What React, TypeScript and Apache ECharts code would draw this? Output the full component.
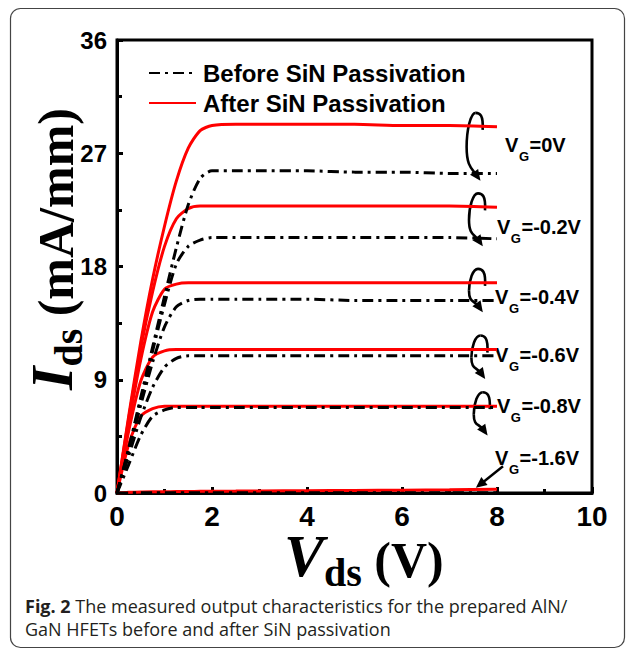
import React, { useEffect, useRef } from 'react';
import * as echarts from 'echarts';

// ---- data ----
const vds = [0, 0.25, 0.5, 0.75, 1.0, 1.25, 1.5, 1.75, 2.0, 2.5, 3, 4, 5, 6, 7, 8];

const afterVG0 = [0, 6.2, 12.0, 17.0, 21.2, 24.8, 27.4, 28.8, 29.2, 29.3, 29.3, 29.3, 29.3, 29.2, 29.2, 29.1];
const afterVGm02 = [0, 6.0, 11.5, 16.0, 19.6, 21.8, 22.6, 22.8, 22.8, 22.8, 22.8, 22.8, 22.8, 22.8, 22.8, 22.7];
const afterVGm04 = [0, 5.6, 10.6, 14.4, 16.2, 16.6, 16.7, 16.7, 16.7, 16.7, 16.7, 16.7, 16.7, 16.7, 16.7, 16.7];
const afterVGm06 = [0, 5.0, 8.9, 10.8, 11.3, 11.4, 11.4, 11.4, 11.4, 11.4, 11.4, 11.4, 11.4, 11.4, 11.4, 11.4];
const afterVGm08 = [0, 3.9, 6.1, 6.7, 6.9, 6.9, 6.9, 6.9, 6.9, 6.9, 6.9, 6.9, 6.9, 6.9, 6.9, 6.9];
const afterVGm16 = [0, 0.05, 0.08, 0.1, 0.1, 0.11, 0.12, 0.13, 0.14, 0.15, 0.16, 0.18, 0.2, 0.22, 0.25, 0.3];

const beforeVG0 = [0, 3.6, 7.6, 11.6, 15.6, 19.5, 22.9, 25.0, 25.6, 25.6, 25.6, 25.6, 25.5, 25.5, 25.4, 25.4];
const beforeVGm02 = [0, 3.5, 7.4, 11.3, 15.0, 18.2, 19.6, 20.1, 20.3, 20.3, 20.3, 20.3, 20.3, 20.3, 20.3, 20.2];
const beforeVGm04 = [0, 3.3, 7.0, 10.4, 13.2, 14.8, 15.3, 15.4, 15.4, 15.4, 15.4, 15.4, 15.3, 15.3, 15.3, 15.3];
const beforeVGm06 = [0, 3.0, 6.0, 8.4, 10.0, 10.7, 10.9, 10.9, 10.9, 10.9, 10.9, 10.9, 10.9, 10.9, 10.9, 10.9];
const beforeVGm08 = [0, 2.3, 4.6, 6.1, 6.6, 6.8, 6.8, 6.8, 6.8, 6.8, 6.8, 6.8, 6.8, 6.8, 6.8, 6.8];
const beforeVGm16 = [0, 0.01, 0.01, 0.01, 0.01, 0.01, 0.01, 0.01, 0.01, 0.01, 0.01, 0.01, 0.01, 0.01, 0.01, 0.01];

const vgLabels = ['0', '-0.2', '-0.4', '-0.6', '-0.8', '-1.6'];
const legendNames = ['Before SiN Passivation', 'After SiN Passivation'];
const captionBold = 'Fig. 2';
const captionLine1 = ' The measured output characteristics for the prepared AlN/';
const captionLine2 = 'GaN HFETs before and after SiN passivation';

const xMin = 0, xMax = 10, xStep = 2;
const yMin = 0, yMax = 36, yStep = 9;

// ---- annotation layout (not data) ----
const loopAt = [7.55, 7.6, 7.6, 7.65, 7.7];
const labelAt = [8.17, 8.0, 7.96, 7.96, 8.0, 7.96];
const labelDy = [-5, 4, 5, 2, -1, 0];

const afterSets = [afterVG0, afterVGm02, afterVGm04, afterVGm06, afterVGm08, afterVGm16];
const beforeSets = [beforeVG0, beforeVGm02, beforeVGm04, beforeVGm06, beforeVGm08, beforeVGm16];

const SANS = "'Liberation Sans', Arial, sans-serif";
const SERIF = "'Liberation Serif', 'Times New Roman', serif";
const CAP = "'Open Sans', 'Noto Sans', sans-serif";

const measureCtx = typeof document !== 'undefined' ? document.createElement('canvas').getContext('2d') : null;
function tw(text: string, size: number, family: string, weight = 'bold', style = 'normal') {
  if (!measureCtx) return text.length * size * 0.55;
  measureCtx.font = `${style} ${weight} ${size}px ${family}`;
  return measureCtx.measureText(text).width;
}

type Piece = { t: string; size: number; family: string; weight?: string; style?: string; dy?: number; dx?: number; color?: string; lh?: number };

function seq(pieces: Piece[], x0: number, baseline: number) {
  let x = x0;
  const out: any[] = [];
  pieces.forEach((p) => {
    x += p.dx || 0;
    out.push({
      type: 'text',
      x,
      y: baseline - 0.35 * p.size + (p.dy || 0),
      silent: true,
      style: {
        text: p.t,
        fontSize: p.size,
        fontFamily: p.family,
        fontWeight: p.weight || 'bold',
        fontStyle: p.style || 'normal',
        lineHeight: p.lh || Math.round(p.size * 1.1),
        fill: p.color || '#000',
        align: 'left',
        verticalAlign: 'middle',
      },
    });
    x += tw(p.t, p.size, p.family, p.weight || 'bold', p.style || 'normal');
  });
  return { els: out, width: x - x0 };
}

function seqWidth(pieces: Piece[]) {
  return pieces.reduce((s, p) => s + (p.dx || 0) + tw(p.t, p.size, p.family, p.weight || 'bold', p.style || 'normal'), 0);
}

function arrowHead(ex: number, ey: number, dx: number, dy: number, len = 11, half = 5) {
  const l = Math.hypot(dx, dy) || 1;
  const ux = dx / l, uy = dy / l;
  const tipX = ex + ux * len * 0.6, tipY = ey + uy * len * 0.6;
  const bx = ex - ux * len * 0.4, by = ey - uy * len * 0.4;
  return {
    type: 'polygon',
    silent: true,
    shape: { points: [[tipX, tipY], [bx - uy * half, by + ux * half], [bx + uy * half, by - ux * half]] },
    style: { fill: '#000' },
  };
}

function buildGraphics(chart: any) {
  const px = (x: number, y: number) => chart.convertToPixel({ gridIndex: 0 }, [x, y]);
  const n = vds.length;
  const g: any[] = [];

  // card border
  g.push({
    type: 'rect', silent: true, z: -10,
    shape: { x: 10.5, y: 8.5, width: 614, height: 639, r: 10 },
    style: { fill: 'none', stroke: '#444', lineWidth: 1.2 },
  });

  // x-axis title
  const xt: Piece[] = [
    { t: 'V', size: 60, family: SERIF, style: 'italic', lh: 34 },
    { t: 'ds', size: 40, family: SERIF, dy: 9, lh: 28 },
    { t: ' (V)', size: 50, family: SERIF, lh: 40 },
  ];
  g.push(...seq(xt, 284, 577).els);

  // y-axis title (rotated)
  const yt: Piece[] = [
    { t: 'I', size: 60, family: SERIF, style: 'italic', lh: 40 },
    { t: 'ds', size: 40, family: SERIF, dy: 9, lh: 28 },
    { t: ' (mA/mm)', size: 50, family: SERIF, lh: 40 },
  ];
  const yl = seqWidth(yt);
  g.push({ type: 'group', x: 73, y: 249, rotation: Math.PI / 2, children: seq(yt, -yl / 2, 0).els });

  // loops with arrows
  for (let i = 0; i < 5; i++) {
    const xd = loopAt[i];
    const [cx, ry] = px(xd, afterSets[i][n - 1]);
    const by = px(xd, beforeSets[i][n - 1])[1];
    const top = ry - 14;
    const tip = Math.max(by + 8, ry + 30);
    const mid = (top + tip) / 2;
    const st = { stroke: '#000', lineWidth: 2.6, fill: 'none' };
    g.push({ type: 'bezierCurve', silent: true, shape: { x1: cx + 7, y1: ry + 3, cpx1: cx + 8, cpy1: top + 2, cpx2: cx + 4, cpy2: top, x2: cx, y2: top }, style: st });
    g.push({ type: 'bezierCurve', silent: true, shape: { x1: cx, y1: top, cpx1: cx - 5, cpy1: top, cpx2: cx - 9, cpy2: top + (mid - top) * 0.5, x2: cx - 9, y2: mid }, style: st });
    const ex = cx + 1, ey = tip - 6;
    const c2x = cx - 4, c2y = tip - 13;
    g.push({ type: 'bezierCurve', silent: true, shape: { x1: cx - 9, y1: mid, cpx1: cx - 9, cpy1: mid + (tip - mid) * 0.55, cpx2: c2x, cpy2: c2y, x2: ex, y2: ey }, style: st });
    g.push(arrowHead(ex, ey, ex - c2x, ey - c2y));
  }

  // straight arrow for the lowest curve
  {
    const [tx, ty0] = px(7.6, afterSets[5][n - 1]);
    const ty = ty0 - 3;
    const sx = tx + 25, sy = ty - 20;
    g.push({ type: 'line', silent: true, shape: { x1: sx, y1: sy, x2: tx + 5, y2: ty - 4 }, style: { stroke: '#000', lineWidth: 2.4 } });
    g.push(arrowHead(tx + 3, ty - 2.5, tx - sx, ty - sy));
  }

  // V_G labels
  for (let i = 0; i < 6; i++) {
    const lx = px(labelAt[i], 0)[0];
    let yc: number;
    const ry = px(8, afterSets[i][n - 1])[1];
    if (i < 5) {
      const by = px(8, beforeSets[i][n - 1])[1];
      yc = (ry + by) / 2 + labelDy[i];
    } else {
      yc = ry - 31;
    }
    const base = yc + 0.35 * 20;
    const pieces: Piece[] = [
      { t: 'V', size: 20, family: SANS, lh: 20 },
      { t: 'G', size: 13, family: SANS, dy: 9, dx: 0.5, lh: 13 },
      { t: '=' + vgLabels[i] + 'V', size: 20, family: SANS, dx: 0.5, lh: 20 },
    ];
    g.push(...seq(pieces, lx, base).els);
  }

  // caption
  const c1: Piece[] = [
    { t: captionBold, size: 18, family: CAP, weight: 'bold', color: '#231f20' },
    { t: captionLine1, size: 18, family: CAP, weight: 'normal', color: '#231f20' },
  ];
  g.push(...seq(c1, 25, 612).els);
  g.push(...seq([{ t: captionLine2, size: 18, family: CAP, weight: 'normal', color: '#231f20' }], 25, 635).els);

  return g;
}

function buildOption() {
  const series: any[] = [];
  afterSets.forEach((arr) => {
    series.push({
      name: legendNames[1],
      type: 'line',
      data: vds.map((v, j) => [v, arr[j]]),
      symbol: 'none',
      smooth: 0.25,
      z: 2,
      lineStyle: { color: '#ff0000', width: 3 },
      itemStyle: { color: '#ff0000' },
    });
  });
  beforeSets.forEach((arr) => {
    series.push({
      name: legendNames[0],
      type: 'line',
      data: vds.map((v, j) => [v, arr[j]]),
      symbol: 'none',
      smooth: 0.25,
      z: 3,
      lineStyle: { color: '#000000', width: 3, type: [11, 5, 3, 5] },
      itemStyle: { color: '#000000' },
    });
  });
  const tickStyle = { color: '#000', width: 3 };
  return {
    animation: false,
    backgroundColor: '#ffffff',
    grid: { left: 117, right: 35, top: 40, bottom: 156, show: true, borderColor: '#000', borderWidth: 3, backgroundColor: 'transparent' },
    legend: {
      data: legendNames,
      orient: 'vertical',
      left: 148,
      top: 61,
      padding: 0,
      itemGap: 6,
      itemWidth: 47,
      itemHeight: 14,
      selectedMode: false,
      itemStyle: { opacity: 0 },
      textStyle: { fontSize: 24, fontWeight: 'bold', fontFamily: SANS, color: '#000', padding: [0, 0, 0, 2] },
    },
    xAxis: {
      type: 'value', min: xMin, max: xMax, interval: xStep,
      axisLine: { show: true, lineStyle: tickStyle },
      axisTick: { show: true, inside: true, length: 6, lineStyle: tickStyle },
      minorTick: { show: true, splitNumber: 2, length: 4, lineStyle: tickStyle },
      splitLine: { show: false },
      axisLabel: { fontSize: 28, fontWeight: 'bold', fontFamily: SANS, color: '#000', margin: 9 },
    },
    yAxis: {
      type: 'value', min: yMin, max: yMax, interval: yStep,
      axisLine: { show: true, lineStyle: tickStyle },
      axisTick: { show: true, inside: true, length: 6, lineStyle: tickStyle },
      minorTick: { show: true, splitNumber: 2, length: 5, lineStyle: tickStyle },
      splitLine: { show: false },
      axisLabel: { fontSize: 24, fontWeight: 'bold', fontFamily: SANS, color: '#000', margin: 10 },
    },
    series,
  };
}

export default function App() {
  const ref = useRef<HTMLDivElement>(null);
  useEffect(() => {
    const el = ref.current;
    if (!el) return;
    const chart = echarts.init(el, null, { renderer: 'svg' });
    chart.setOption(buildOption());
    chart.setOption({ graphic: buildGraphics(chart) });
    return () => chart.dispose();
  }, []);
  return (
    <div
      ref={ref}
      style={{ position: 'fixed', left: 0, top: 0, width: 627, height: 649, background: '#fff' }}
    />
  );
}
